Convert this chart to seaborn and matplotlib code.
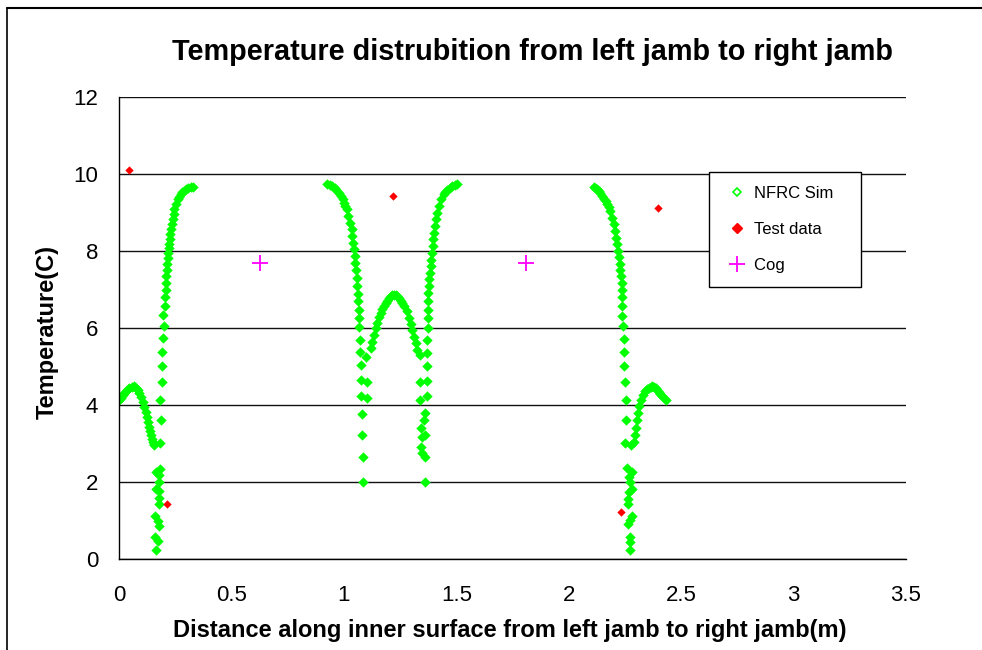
import matplotlib
matplotlib.use('Agg')
import matplotlib.pyplot as plt
from matplotlib.lines import Line2D
import pandas as pd
import seaborn as sns

# NFRC simulation - left jamb segment (distance m, temperature C)
left_x = [0.001, 0.009, 0.016, 0.024, 0.031, 0.039, 0.046, 0.057, 0.068, 0.076, 0.083,
          0.090, 0.098, 0.106, 0.113, 0.119, 0.124, 0.130, 0.135, 0.139, 0.142, 0.146,
          0.150, 0.154, 0.157,
          0.184, 0.186, 0.184, 0.190, 0.191, 0.192, 0.197, 0.199, 0.197, 0.203, 0.206,
          0.207, 0.207, 0.210, 0.213, 0.213, 0.216, 0.219, 0.221, 0.222, 0.225, 0.228,
          0.231, 0.234, 0.238, 0.243, 0.246, 0.253, 0.261, 0.268, 0.275, 0.282, 0.290,
          0.299, 0.308, 0.318, 0.327,
          0.184, 0.164, 0.179, 0.176, 0.164, 0.179, 0.179, 0.179, 0.162, 0.172, 0.179,
          0.162, 0.172, 0.164]
left_y = [4.12, 4.18, 4.25, 4.31, 4.37, 4.41, 4.44, 4.47, 4.49, 4.45, 4.38,
          4.30, 4.21, 4.08, 3.95, 3.82, 3.69, 3.56, 3.43, 3.32, 3.21, 3.12,
          3.04, 2.99, 2.95,
          3.01, 3.60, 4.12, 4.60, 5.02, 5.38, 5.73, 6.05, 6.33, 6.57, 6.80,
          6.99, 7.18, 7.34, 7.51, 7.67, 7.82, 7.95, 8.08, 8.19, 8.31, 8.43,
          8.56, 8.69, 8.82, 8.95, 9.08, 9.21, 9.34, 9.41, 9.47, 9.52, 9.56,
          9.61, 9.64, 9.66, 9.67,
          2.34, 2.25, 2.17, 1.99, 1.82, 1.77, 1.58, 1.44, 1.12, 0.99, 0.86,
          0.57, 0.47, 0.23]

# NFRC simulation - middle mullion segment
mid_x = [0.927, 0.938, 0.949, 0.960, 0.971, 0.979, 0.986, 0.994, 1.001, 1.007, 1.013,
         1.020, 1.028, 1.034, 1.038, 1.042, 1.045, 1.048, 1.051, 1.054, 1.057, 1.060,
         1.063, 1.065, 1.066, 1.068, 1.068, 1.072, 1.072, 1.075, 1.078, 1.078, 1.080,
         1.080, 1.084, 1.085, 1.097, 1.102, 1.102,
         1.120, 1.127, 1.134, 1.142, 1.149, 1.156, 1.164, 1.171, 1.179, 1.186, 1.193,
         1.200, 1.208, 1.215, 1.223, 1.230, 1.238, 1.245, 1.253, 1.260, 1.268, 1.280,
         1.290, 1.297, 1.305, 1.312, 1.320, 1.327, 1.337,
         1.505, 1.494, 1.482, 1.471, 1.460, 1.452, 1.445, 1.433, 1.423, 1.416, 1.410,
         1.405, 1.401, 1.398, 1.395, 1.392, 1.389, 1.386, 1.383, 1.380, 1.379, 1.376,
         1.376, 1.374, 1.374, 1.374, 1.371, 1.368, 1.368, 1.368, 1.368, 1.359, 1.356,
         1.359, 1.361, 1.361, 1.339, 1.339, 1.342, 1.349, 1.345, 1.346]
mid_y = [9.73, 9.72, 9.69, 9.63, 9.56, 9.50, 9.43, 9.34, 9.25, 9.17, 9.08,
         8.91, 8.73, 8.56, 8.38, 8.21, 8.04, 7.86, 7.69, 7.51, 7.30, 7.08,
         6.89, 6.71, 6.47, 6.25, 6.02, 5.69, 5.38, 5.04, 4.66, 4.23, 3.76,
         3.21, 2.66, 1.99, 5.25, 4.59, 4.19,
         5.47, 5.64, 5.82, 5.99, 6.14, 6.28, 6.40, 6.49, 6.57, 6.65, 6.71,
         6.77, 6.82, 6.85, 6.86, 6.85, 6.82, 6.77, 6.71, 6.64, 6.57, 6.43,
         6.25, 6.10, 5.95, 5.77, 5.60, 5.43, 5.30,
         9.73, 9.72, 9.69, 9.64, 9.58, 9.53, 9.47, 9.34, 9.17, 8.99, 8.82,
         8.64, 8.47, 8.30, 8.12, 7.95, 7.77, 7.60, 7.43, 7.27, 7.08, 6.92,
         6.71, 6.47, 6.25, 5.99, 5.69, 5.36, 5.01, 4.63, 4.23, 3.79, 3.60,
         3.21, 2.66, 1.99, 4.59, 4.12, 3.41, 3.17, 2.90, 2.75]

# NFRC simulation - right jamb segment
right_x = [2.112, 2.119, 2.126, 2.134, 2.141, 2.149, 2.156, 2.164, 2.171, 2.177, 2.183,
           2.193, 2.200, 2.208, 2.212, 2.215, 2.220, 2.223, 2.227, 2.230, 2.233, 2.236,
           2.236, 2.238, 2.239, 2.239, 2.242, 2.245, 2.248, 2.248, 2.252, 2.255, 2.255,
           2.252,
           2.275, 2.289, 2.294, 2.298, 2.304, 2.309, 2.314, 2.322, 2.331, 2.341, 2.349,
           2.356, 2.364, 2.371, 2.379, 2.386, 2.393, 2.400, 2.408, 2.415, 2.425, 2.434,
           2.260, 2.282, 2.267, 2.271, 2.282, 2.267, 2.263, 2.263, 2.282, 2.271, 2.263,
           2.274, 2.274, 2.274]
right_y = [9.67, 9.64, 9.60, 9.55, 9.50, 9.43, 9.36, 9.29, 9.21, 9.13, 9.04,
           8.86, 8.69, 8.51, 8.34, 8.17, 7.99, 7.84, 7.67, 7.51, 7.34, 7.17,
           6.99, 6.80, 6.56, 6.32, 6.06, 5.72, 5.37, 5.02, 4.60, 4.12, 3.62,
           3.01,
           2.97, 3.03, 3.21, 3.41, 3.60, 3.79, 3.97, 4.12, 4.25, 4.37, 4.42,
           4.45, 4.48, 4.49, 4.47, 4.43, 4.39, 4.34, 4.29, 4.24, 4.18, 4.12,
           2.37, 2.25, 2.12, 1.99, 1.82, 1.73, 1.56, 1.43, 1.12, 1.01, 0.90,
           0.56, 0.45, 0.23]

# measured temperatures
test_x = [0.046, 0.213, 1.220, 2.234, 2.397]
test_y = [10.11, 1.42, 9.44, 1.23, 9.12]

# centre of glass
cog_x = [0.629, 1.811]
cog_y = [7.70, 7.70]

sim = pd.DataFrame({'x': left_x + mid_x + right_x, 'y': left_y + mid_y + right_y})
test = pd.DataFrame({'x': test_x, 'y': test_y})
cog = pd.DataFrame({'x': cog_x, 'y': cog_y})

sns.set_style('white')
plt.rcParams['font.family'] = ['Liberation Sans', 'DejaVu Sans']
plt.rcParams['text.color'] = 'black'
plt.rcParams['xtick.color'] = 'black'
plt.rcParams['ytick.color'] = 'black'
plt.rcParams['axes.labelcolor'] = 'black'

fig = plt.figure(figsize=(9.82, 6.5), dpi=100)
ax = fig.add_axes([119 / 982, 1 - 559 / 650, (906 - 119) / 982, (559 - 97) / 650])

green = '#00ff00'
sns.scatterplot(data=sim, x='x', y='y', marker='D', s=28, color=green, linewidth=0, ax=ax)
sns.scatterplot(data=test, x='x', y='y', marker='D', s=18, color='#ff0000', linewidth=0, ax=ax)
sns.scatterplot(data=cog, x='x', y='y', marker='+', s=120, color='#ff00ff', linewidth=1.3, ax=ax)

ax.set_xlim(0, 3.5)
ax.set_ylim(0, 12)
ax.set_xticks([0, 0.5, 1, 1.5, 2, 2.5, 3, 3.5])
ax.set_xticklabels(['0', '0.5', '1', '1.5', '2', '2.5', '3', '3.5'])
ax.set_yticks([0, 2, 4, 6, 8, 10, 12])
ax.yaxis.grid(True, color='#111111', linewidth=1)
ax.set_axisbelow(True)
ax.tick_params(axis='both', direction='out', length=6, width=1, color='black',
               labelcolor='black', labelsize=16, pad=9)
ax.tick_params(axis='x', pad=13)
for side in ['top', 'right']:
    ax.spines[side].set_visible(False)
for side in ['left', 'bottom']:
    ax.spines[side].set_color('black')
    ax.spines[side].set_linewidth(1)
ax.set_xlabel('')
ax.set_ylabel('')

fig.text(533 / 982, 1 - 52 / 650, 'Temperature distrubition from left jamb to right jamb',
         ha='center', va='center', fontsize=20.8, fontweight='bold', color='black')
fig.text(510 / 982, 1 - 631 / 650, 'Distance along inner surface from left jamb to right jamb(m)',
         ha='center', va='center', fontsize=17, fontweight='bold', color='black')
fig.text(47 / 982, 1 - 332 / 650, 'Temperature(C)', rotation=90,
         ha='center', va='center', fontsize=17, fontweight='bold', color='black')

handles = [
    Line2D([], [], linestyle='none', marker='D', markersize=4.5, markerfacecolor='none',
           markeredgecolor=green, markeredgewidth=1.2),
    Line2D([], [], linestyle='none', marker='D', markersize=5, color='#ff0000'),
    Line2D([], [], linestyle='none', marker='+', markersize=12, color='#ff00ff',
           markeredgewidth=1.3),
]
leg = ax.legend(handles, ['NFRC Sim', 'Test data', 'Cog'], loc='upper left',
                bbox_to_anchor=(709 / 982, 1 - 172 / 650), bbox_transform=fig.transFigure,
                borderaxespad=0, frameon=True, fancybox=False, shadow=False,
                fontsize=12, borderpad=0.85, labelspacing=1.25, handlelength=1.6,
                handletextpad=0.25)
for t in leg.get_texts():
    t.set_color('black')
leg.get_frame().set_edgecolor('black')
leg.get_frame().set_linewidth(1)
leg.get_frame().set_facecolor('white')
leg.get_frame().set_alpha(1)
# widen the box to the reference width
leg._legend_box.align = 'left'
for t in leg.get_texts():
    t.set_text(t.get_text() + '   ')

# chart area border (cut off on right and bottom)
fig.add_artist(Line2D([7 / 982, 7 / 982], [0, 1 - 8 / 650], color='black', linewidth=1.2,
                      transform=fig.transFigure))
fig.add_artist(Line2D([7 / 982, 1], [1 - 8 / 650, 1 - 8 / 650], color='black', linewidth=1.5,
                      transform=fig.transFigure))

fig.savefig('out.png', dpi=100)
